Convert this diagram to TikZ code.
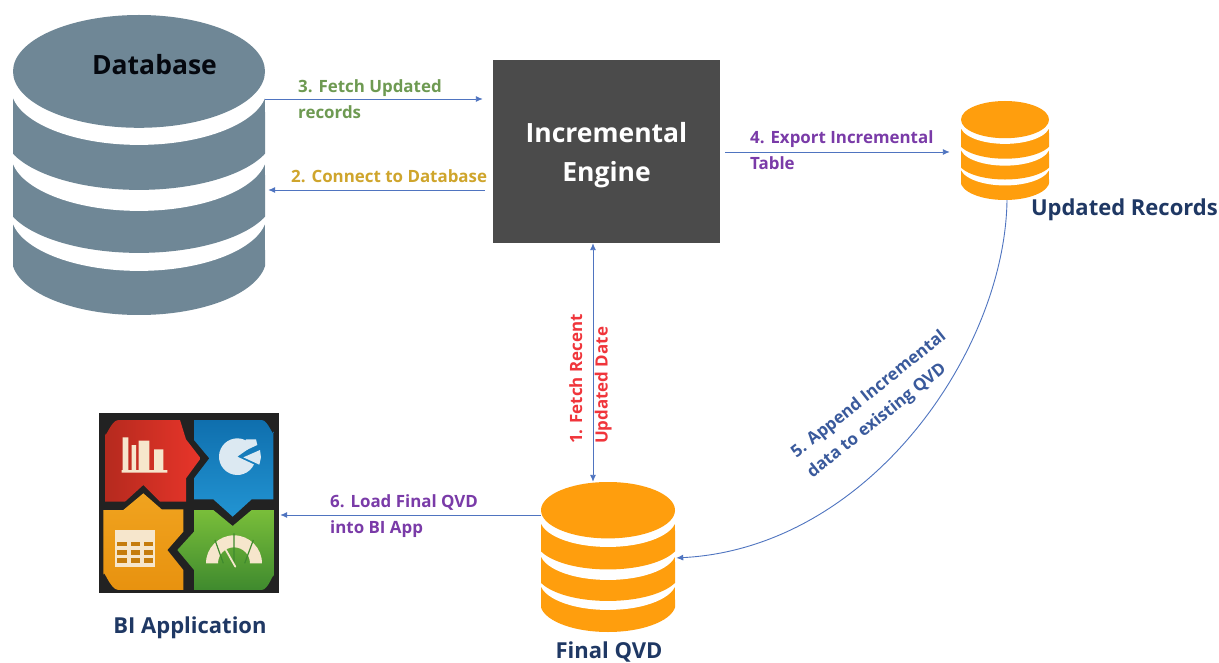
\documentclass[tikz,border=0pt]{standalone}
\usepackage{fontspec}
\setmainfont{Open Sans}
\usetikzlibrary{arrows.meta,calc}
\definecolor{dbgray}{HTML}{6F8796}
\definecolor{dborange}{HTML}{FF9E0D}
\definecolor{engine}{HTML}{4B4B4B}
\definecolor{navy}{HTML}{1F3864}
\definecolor{cgreen}{HTML}{6E9A52}
\definecolor{cyellow}{HTML}{CFA52C}
\definecolor{cpurple}{HTML}{7A3BA8}
\definecolor{cred}{HTML}{F0353B}
\definecolor{cblue}{HTML}{3A5A9C}
\definecolor{arrowblue}{HTML}{4F74C0}
\definecolor{cream}{HTML}{F6E6CC}
\definecolor{icard}{HTML}{222222}
\definecolor{redA}{HTML}{B52A1E}
\definecolor{redB}{HTML}{E8352A}
\definecolor{bluA}{HTML}{0F6FAE}
\definecolor{bluB}{HTML}{2294D2}
\definecolor{oraA}{HTML}{F0A31F}
\definecolor{oraB}{HTML}{E8920F}
\definecolor{greA}{HTML}{79BE3A}
\definecolor{greB}{HTML}{3F8A2E}
\definecolor{piec}{HTML}{DCE9F2}
\tikzset{
  arr/.style={draw=arrowblue,line width=0.9pt,-{Latex[length=7pt,width=6pt]}},
  biarr/.style={draw=arrowblue,line width=0.9pt,{Latex[length=7pt,width=6pt]}-{Latex[length=7pt,width=6pt]}},
  lbl/.style={font=\bfseries\fontsize{16.9}{25.5}\selectfont,align=left,inner sep=0pt},
  title/.style={font=\bfseries\fontsize{22}{26}\selectfont,text=navy,inner sep=0pt},
  hit/.style={inner sep=0pt,draw=none,fill=none}
}
% #1 name, #2 x0, #3 y0, #4 w, #5 h, #6 colour
\newcommand{\dbcyl}[6]{%
  \begin{scope}[shift={(#2,#3)},x=#4pt,y=-#5pt]
    \begin{scope}
      \clip (0,0) rectangle (1,1);
      \fill[#6] (0.5,0.81) ellipse [x radius=0.505,y radius=0.19];
      \fill[#6] (0,0.69) rectangle (1,0.81);
      \fill[white] (0.5,0.663) ellipse [x radius=0.508,y radius=0.19];
      \fill[#6] (0.5,0.603) ellipse [x radius=0.537,y radius=0.19];
      \fill[#6] (0,0.49) rectangle (1,0.603);
      \fill[white] (0.5,0.463) ellipse [x radius=0.508,y radius=0.19];
      \fill[#6] (0.5,0.393) ellipse [x radius=0.537,y radius=0.19];
      \fill[#6] (0,0.27) rectangle (1,0.393);
      \fill[white] (0.5,0.243) ellipse [x radius=0.508,y radius=0.19];
    \end{scope}
    \fill[#6] (0.5,0.188) ellipse [x radius=0.5,y radius=0.188];
    \node[hit,minimum width=#4pt,minimum height=#5pt] (#1) at (0.5,0.5) {};
  \end{scope}}
\begin{document}
\begin{tikzpicture}[x=1pt,y=-1pt]
\useasboundingbox (0,0) rectangle (1219,663);
\fill[white] (0,0) rectangle (1219,663);

\dbcyl{db}{13}{15}{252}{300}{dbgray}
\dbcyl{upd}{961}{101}{88}{99}{dborange}
\dbcyl{qvd}{541}{482}{134}{150}{dborange}

\node[fill=engine,minimum width=227pt,minimum height=183pt,inner sep=0pt] (engine) at (606.5,151.5) {};
\node[inner sep=0pt,text=white,align=center,font=\bfseries\fontsize{26.5}{39}\selectfont] (enginet) at (606.5,155.5) {Incremental\\Engine};

\node[inner sep=0pt,text=black!85!navy,font=\bfseries\fontsize{26.5}{30}\selectfont] (dbt) at (154.5,65) {Database};
\node[title,anchor=east] (updt) at (1218,210) {Updated Records};
\node[title] (qvdt) at (609,652) {Final QVD};
\node[title] (bit) at (190,628) {BI Application};

% BI icon
\node[hit,minimum width=180pt,minimum height=180pt] (bi) at (189,503) {};
\begin{scope}[shift={(80,400)},x=0.33333pt,y=-0.33333pt]
  \fill[icard] (57,40) rectangle (597,578);
  \shade[left color=redA,right color=redB]
    (75,100) to[out=-90,in=180] (115,60) -- (300,60) -- (318,118) -- (362,175) -- (318,235) -- (318,305) -- (240,305) -- (190,255) -- (135,305) -- (75,305) -- cycle;
  \shade[top color=bluA,bottom color=bluB]
    (342,60) -- (545,60) to[out=0,in=-90] (580,95) -- (580,298) -- (515,298) -- (458,350) -- (400,298) -- (342,298) -- (342,235) -- (388,175) -- (342,120) -- cycle;
  \shade[top color=oraA,bottom color=oraB]
    (70,330) -- (130,330) -- (190,280) -- (245,328) -- (310,328) -- (310,395) -- (262,450) -- (310,510) -- (310,570) -- (115,570) to[out=180,in=90] (70,525) -- cycle;
  \shade[top color=greA,bottom color=greB]
    (342,330) -- (400,330) -- (458,378) -- (515,330) -- (582,330) -- (582,530) to[out=90,in=0] (545,570) -- (342,570) -- (342,510) -- (292,450) -- (342,395) -- cycle;
  % bar chart
  \fill[cream] (128,112) rectangle (145,210) (155,135) rectangle (168,210) (176,122) rectangle (208,210) (222,148) rectangle (250,210) (125,210) rectangle (262,218);
  % pie
  \fill[piec] (472,170) -- ++(25:55) arc[start angle=25,end angle=325,radius=55] -- cycle;
  \fill[piec] (482,158) -- (498,118) -- (528,118) -- (532,135) -- cycle;
  \fill[piec] (490,172) -- (540,150) -- (543,172) -- (538,194) -- cycle;
  % table
  \fill[cream] (105,390) rectangle (225,500);
  \foreach \cx in {112,152,192} \foreach \cy in {425,450,475}
    \fill[oraB!85!black] (\cx,\cy) rectangle ++(28,14);
  % gauge
  \fill[cream] (378,490) arc[start angle=180,end angle=360,radius=84] -- (510,490) arc[start angle=360,end angle=180,radius=48] -- cycle;
  \draw[greB,line width=1.2pt] (462,495) -- (462,400) (430,490) -- (405,420) (494,490) -- (520,420);
  \draw[cream,line width=1.8pt,line cap=round] (432,440) -- (466,500);
\end{scope}

% connectors
\draw[arr,shorten >=10pt] (db.east |- 0,99) -- (engine.west |- 0,99);
\draw[arr,shorten <=8pt,shorten >=3pt] (engine.west |- 0,190) -- (db.east |- 0,190);
\draw[arr,shorten <=5pt,shorten >=11pt] (engine.east |- 0,152) -- (upd.west |- 0,152);
\draw[biarr] (engine.south -| 593,0) -- (qvd.north -| 593,0);
\draw[arr,shorten >=1pt] (upd.south -| 1007,0) .. controls (1005,350) and (870,548) .. (qvd.east |- 0,558);
\draw[arr,shorten >=1pt] (qvd.west |- 0,515) -- (bi.east |- 0,515);

% connector labels
\node[lbl,text=cgreen,anchor=west] (l3) at (298,99) {3. Fetch Updated\\records};
\node[lbl,text=cyellow,anchor=west] (l2) at (291,176) {2. Connect to Database};
\node[lbl,text=cpurple,anchor=west] (l4) at (750,150) {4. Export Incremental\\Table};
\node[lbl,text=cred,anchor=west,rotate=90] (l1) at (590.5,444) {1. Fetch Recent\\Updated Date};
\node[lbl,text=cblue,rotate=38.7] (l5) at (877,405) {5. Append Incremental\\data to existing QVD};
\node[lbl,text=cpurple,anchor=west] (l6) at (330,516) {6. Load Final QVD\\into BI App};
\end{tikzpicture}
\end{document}
